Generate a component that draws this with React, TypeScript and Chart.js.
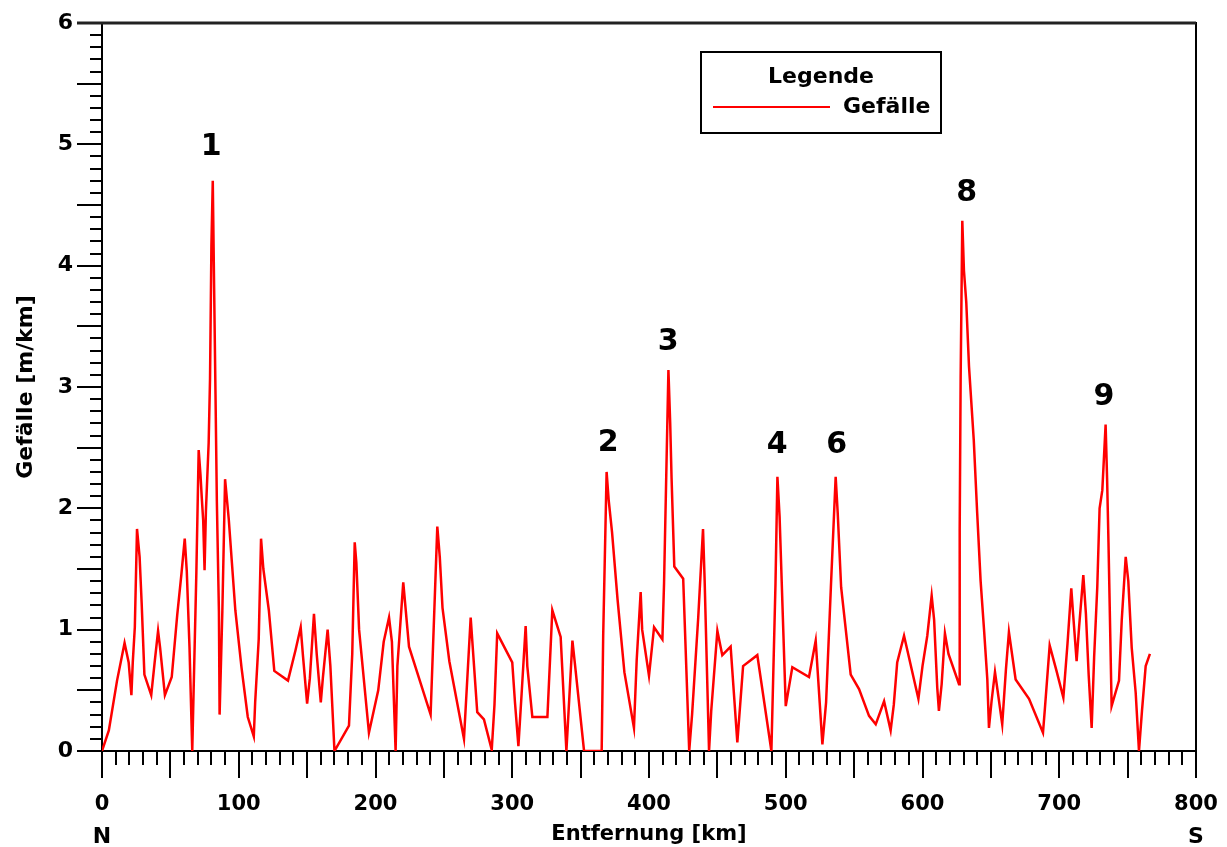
import React, { useEffect, useRef } from "react";
import { Chart, registerables } from "chart.js";

Chart.register(...registerables);

// ---------- data ----------
const distanceKm = [
  0, 5, 11, 16.5, 19.5, 21.5, 22.5, 24, 25.6, 27.5,
  29, 31, 36, 38.5, 41, 42.5, 46, 51, 55, 58,
  60.5, 62, 64, 66, 67, 69, 70.7, 72, 73, 74,
  75, 76, 78, 79, 80, 81, 82, 83, 84, 85.5,
  86, 88, 90, 92.7, 95, 97.5, 102, 106.6, 111, 112,
  114.6, 116.3, 118, 122, 126, 136, 141.5, 145.3, 147, 150,
  152, 155, 157, 160, 161.5, 165, 167, 170, 180.6, 183,
  184.8, 186, 188, 195.2, 202, 206, 209.9, 212, 214.7, 216,
  220.3, 224.5, 240.3, 245.2, 247, 249, 254, 264.7, 269.6, 274.4,
  279.3, 285, 287, 289, 300, 302, 304.5, 307, 309.8, 311,
  314.7, 325.7, 329.3, 335.4, 339.6, 344, 346, 352.5, 365.4, 366.5,
  369, 370.5, 373, 377, 382, 389, 391, 393.9, 395, 400,
  403.7, 409.8, 411, 414.2, 415.5, 416.5, 418.5, 425, 429.4, 431.5,
  436, 439.5, 440.7, 443.9, 445.5, 450, 453.6, 459.7, 464.6, 468.8,
  479.2, 489.5, 492.5, 493.9, 495.5, 500, 504.8, 517, 521.9, 526.8,
  529.5, 533, 536.5, 538, 540.5, 547.5, 553.6, 560.9, 565.8, 571.9,
  576.7, 579, 581.5, 586.5, 597, 600, 603.5, 606.7, 608.5, 610.8,
  612, 614, 616.4, 619, 626.7, 627.2, 627.9, 629.1, 630.3, 632,
  634, 637.5, 640, 642.5, 645, 647.4, 648.6, 650.5, 653, 655,
  658.3, 661, 663.2, 668.1, 677.9, 688.1, 689.5, 693, 698, 703,
  706, 708.8, 710, 712.7, 714.5, 717.6, 719.5, 721.5, 723.7, 725.5,
  727.8, 729.5, 731.5, 733.9, 735, 736, 738.3, 743.7, 745.7, 748.6,
  750.5, 753, 755.9, 758.3, 760.5, 763.2, 766.3,
];

const gradient = [
  0, 0.17, 0.58, 0.89, 0.73, 0.46, 0.73, 1.02, 1.83, 1.6,
  1.22, 0.63, 0.46, 0.73, 0.99, 0.85, 0.46, 0.61, 1.12, 1.45,
  1.75, 1.48, 0.85, 0, 0.5, 1.47, 2.48, 2.28, 2.08, 1.9,
  1.49, 1.98, 2.54, 3.07, 4.16, 4.7, 3.81, 2.94, 2.05, 1.15,
  0.3, 1.15, 2.24, 1.91, 1.55, 1.16, 0.69, 0.28, 0.12, 0.4,
  0.92, 1.75, 1.5, 1.16, 0.66, 0.58, 0.83, 1.02, 0.78, 0.39,
  0.6, 1.13, 0.8, 0.4, 0.6, 1.0, 0.7, 0, 0.21, 0.8,
  1.72, 1.55, 1.0, 0.15, 0.5, 0.9, 1.1, 0.9, 0, 0.7,
  1.39, 0.86, 0.3, 1.85, 1.6, 1.18, 0.74, 0.1, 1.1, 0.32,
  0.26, 0.01, 0.38, 0.97, 0.73, 0.4, 0.04, 0.5, 1.03, 0.7,
  0.28, 0.28, 1.16, 0.94, 0, 0.91, 0.7, 0, 0, 0.95,
  2.3, 2.07, 1.8, 1.25, 0.65, 0.19, 0.75, 1.31, 1.0, 0.62,
  1.02, 0.92, 1.38, 3.14, 2.7, 2.25, 1.52, 1.42, 0, 0.3,
  1.1, 1.83, 1.4, 0, 0.33, 0.99, 0.79, 0.86, 0.07, 0.7,
  0.79, 0, 1.38, 2.26, 1.93, 0.37, 0.69, 0.61, 0.91, 0.055,
  0.4, 1.35, 2.26, 1.96, 1.35, 0.63, 0.51, 0.29, 0.22, 0.41,
  0.17, 0.38, 0.73, 0.95, 0.43, 0.7, 0.95, 1.28, 1.08, 0.52,
  0.33, 0.55, 0.97, 0.8, 0.55, 1.82, 3.09, 4.37, 3.96, 3.7,
  3.17, 2.56, 1.96, 1.4, 1.0, 0.59, 0.19, 0.41, 0.65, 0.49,
  0.22, 0.67, 0.98, 0.59, 0.43, 0.15, 0.35, 0.87, 0.66, 0.44,
  0.88, 1.34, 1.15, 0.74, 1.02, 1.45, 1.13, 0.63, 0.19, 0.77,
  1.35, 2.0, 2.15, 2.69, 2.24, 1.72, 0.37, 0.58, 1.08, 1.6,
  1.4, 0.85, 0.48, 0, 0.33, 0.7, 0.8,
];

const xTickValues = [0, 100, 200, 300, 400, 500, 600, 700, 800];
const yTickValues = [0, 1, 2, 3, 4, 5, 6];

const peakLabels = ["1", "2", "3", "4", "6", "8", "9"];
const peakKm = [79.9, 370.2, 414.1, 493.8, 537.2, 632.3, 732.7];
const peakValue = [4.98, 2.54, 3.37, 2.52, 2.52, 4.6, 2.92];

const seriesLabel = "Gefälle";
const legendTitle = "Legende";
const xTitle = "Entfernung [km]";
const yTitle = "Gefälle [m/km]";
const xStartLabel = "N";
const xEndLabel = "S";

// ---------- styles ----------
const FONT = '"DejaVu Sans", "Liberation Sans", sans-serif';
const RED = "#ff0000";

const frameAndTicks = {
  id: "frameAndTicks",
  beforeDatasetsDraw(chart: any) {
    const { ctx, chartArea: a, scales } = chart;
    const xs = scales.x;
    const ys = scales.y;
    ctx.save();
    ctx.strokeStyle = "#000";
    ctx.lineWidth = 2;
    ctx.beginPath();
    for (let i = 0; i <= 80; i++) {
      const px = Math.round(xs.getPixelForValue(i * 10));
      const len = i % 5 === 0 ? 27 : 14;
      ctx.moveTo(px, a.bottom);
      ctx.lineTo(px, a.bottom + len);
    }
    for (let i = 0; i <= 60; i++) {
      const py = Math.round(ys.getPixelForValue(i / 10));
      const len = i % 5 === 0 ? 25 : 12;
      ctx.moveTo(a.left, py);
      ctx.lineTo(a.left - len, py);
    }
    ctx.stroke();
    ctx.strokeRect(a.left, a.top, a.right - a.left, a.bottom - a.top);
    // slightly heavier top rule, as in the original
    ctx.lineWidth = 3;
    ctx.strokeStyle = "#222";
    ctx.beginPath();
    ctx.moveTo(a.left - 25, a.top);
    ctx.lineTo(a.right, a.top);
    ctx.stroke();
    ctx.restore();
  },
};

const annotations = {
  id: "annotations",
  afterDraw(chart: any) {
    const { ctx, chartArea: a, scales } = chart;
    const xs = scales.x;
    const ys = scales.y;
    ctx.save();
    ctx.fillStyle = "#000";
    ctx.textAlign = "center";
    ctx.textBaseline = "middle";
    // peak numbers
    ctx.font = `bold 30px ${FONT}`;
    peakLabels.forEach((t, i) => {
      ctx.fillText(t, xs.getPixelForValue(peakKm[i]), ys.getPixelForValue(peakValue[i]));
    });
    // N / S
    ctx.font = `bold 22px ${FONT}`;
    ctx.fillText(xStartLabel, xs.getPixelForValue(0), a.bottom + 86);
    ctx.fillText(xEndLabel, xs.getPixelForValue(800), a.bottom + 86);

    // legend box
    const bx = a.left + 599;
    const by = a.top + 29;
    const bw = 240;
    const bh = 81;
    ctx.lineWidth = 2;
    ctx.strokeStyle = "#000";
    ctx.strokeRect(bx, by, bw, bh);
    ctx.font = `bold 22px ${FONT}`;
    ctx.fillText(legendTitle, bx + 120, by + 25);
    ctx.strokeStyle = RED;
    ctx.lineWidth = 2;
    ctx.beginPath();
    ctx.moveTo(bx + 12, by + 55);
    ctx.lineTo(bx + 129, by + 55);
    ctx.stroke();
    ctx.textAlign = "left";
    ctx.fillText(seriesLabel, bx + 142, by + 55);
    ctx.restore();
  },
};

const zeroPadding = (s: any) => {
  s.paddingTop = 0;
  s.paddingBottom = 0;
  s.paddingLeft = 0;
  s.paddingRight = 0;
};

export default function App() {
  const ref = useRef<HTMLCanvasElement | null>(null);

  useEffect(() => {
    document.documentElement.style.overflow = "hidden";
    document.body.style.overflow = "hidden";
    if (!ref.current) return;
    const data = distanceKm.map((x, i) => ({ x, y: gradient[i] }));
    const chart = new Chart(ref.current, {
      type: "line",
      data: {
        datasets: [
          {
            label: seriesLabel,
            data,
            borderColor: RED,
            backgroundColor: RED,
            borderWidth: 2.5,
            pointRadius: 0,
            tension: 0,
            fill: false,
          },
        ],
      },
      options: {
        responsive: false,
        animation: false,
        layout: { padding: { top: 15, right: 23, left: 0, bottom: 0 } },
        plugins: {
          legend: { display: false },
          tooltip: { enabled: false },
          title: { display: false },
        },
        scales: {
          x: {
            type: "linear",
            min: 0,
            max: 800,
            afterBuildTicks: (s: any) => {
              s.ticks = xTickValues.map((v) => ({ value: v }));
            },
            afterFit: (s: any) => {
              s.height = 96;
              zeroPadding(s);
            },
            grid: { display: false, drawTicks: false },
            border: { display: false },
            ticks: {
              autoSkip: false,
              maxRotation: 0,
              padding: 41,
              color: "#000",
              font: { family: FONT, size: 21, weight: "bold" },
              callback: (v: any) => String(v),
            },
            title: {
              display: true,
              text: xTitle,
              color: "#000",
              padding: 0,
              font: { family: FONT, size: 21, weight: "bold" },
            },
          },
          y: {
            type: "linear",
            min: 0,
            max: 6,
            afterBuildTicks: (s: any) => {
              s.ticks = yTickValues.map((v) => ({ value: v }));
            },
            afterFit: (s: any) => {
              s.width = 94;
              zeroPadding(s);
            },
            grid: { display: false, drawTicks: false },
            border: { display: false },
            ticks: {
              padding: 29,
              color: "#000",
              font: { family: FONT, size: 22, weight: "bold" },
              callback: (v: any) => String(v),
            },
            title: {
              display: true,
              text: yTitle,
              color: "#000",
              padding: { top: 5, bottom: 0 },
              font: { family: FONT, size: 22, weight: "bold" },
            },
          },
        },
      },
      plugins: [frameAndTicks, annotations],
    });
    return () => chart.destroy();
  }, []);

  return (
    <div style={{ width: 1211, height: 839 }}>
      <canvas ref={ref} width={1211} height={839} style={{ display: "block" }} />
    </div>
  );
}
